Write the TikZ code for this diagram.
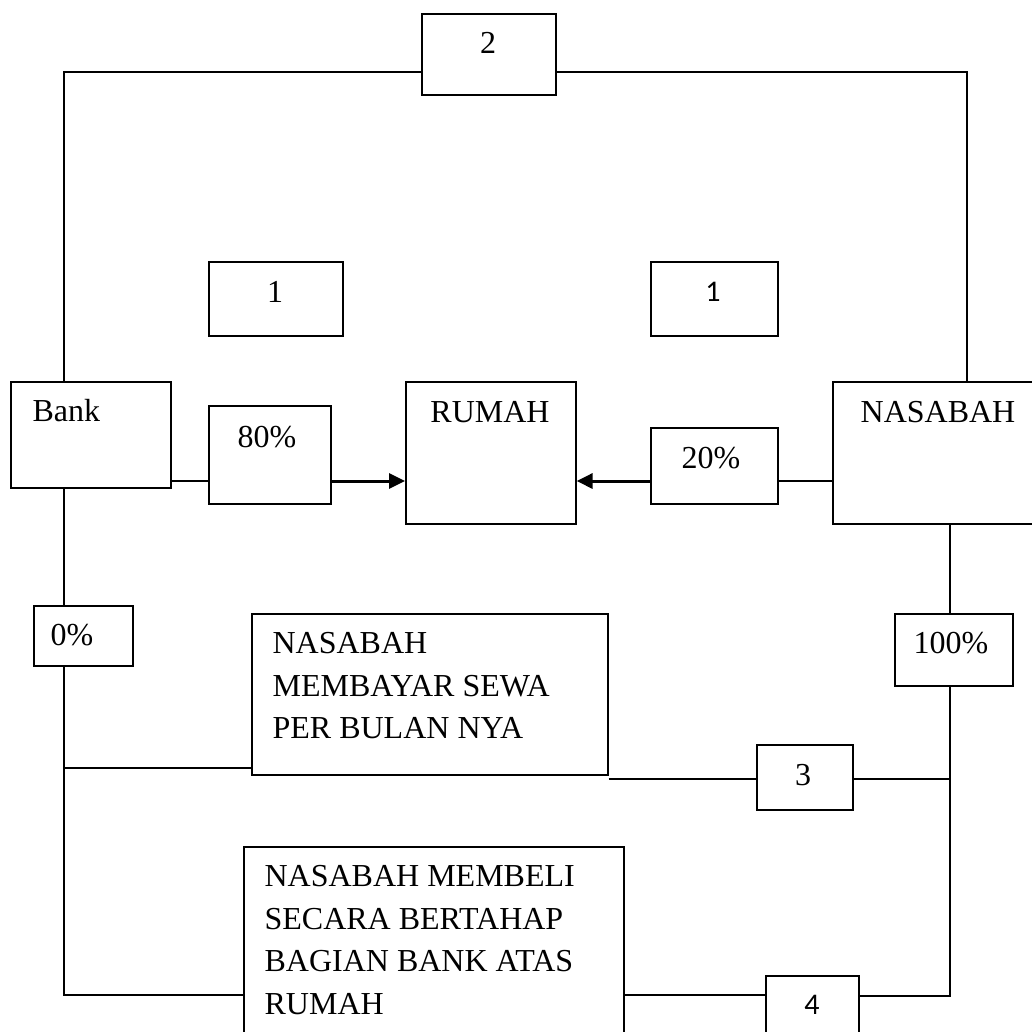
\documentclass[tikz,border=0pt]{standalone}
\usepackage{fontspec}
\setmainfont{Liberation Serif}
\newfontfamily\calibri{Carlito}
\usetikzlibrary{arrows.meta}

\begin{document}
\begin{tikzpicture}[x=1pt, y=-1pt, line width=1.2pt, box/.style={draw, line width=1.6pt, anchor=north west, inner sep=0pt}, txt/.style={inner sep=0pt, font=\fontsize{32}{42.5}\selectfont}, arr/.style={line width=3pt, -{Triangle[length=16pt,width=15pt]}}]
				\useasboundingbox (0,0) rectangle (1032,1032);
				\node[box, minimum width=134, minimum height=81](two) at (421,13){};
				\node[box, minimum width=134, minimum height=74](oneL) at (208,261){};
				\node[box, minimum width=127, minimum height=74](oneR) at (650,261){};
				\node[box, minimum width=160, minimum height=106](bank) at (10,381){};
				\node[box, minimum width=122, minimum height=98](p80) at (208,405){};
				\node[box, minimum width=170, minimum height=142](rumah) at (405,381){};
				\node[box, minimum width=127, minimum height=76](p20) at (650,427){};
				\node[box, minimum width=204, minimum height=142](nasabah) at (832,381){};
				\node[box, minimum width=99, minimum height=60](p0) at (33,605){};
				\node[box, minimum width=118, minimum height=72](p100) at (894,613){};
				\node[box, minimum width=356, minimum height=161](sewa) at (251,613){};
				\node[box, minimum width=96, minimum height=65](p3) at (756,744){};
				\node[box, minimum width=380, minimum height=200](beli) at (243,846){};
				\node[box, minimum width=93, minimum height=70](p4) at (765,975){};
				\node[txt](twot) at (488,43){2};
				\node[txt](oneLt) at (275,292){1};
				\node[txt, font=\fontsize{30}{36}\calibri](oneRt) at (713,292){1};
				\node[txt, anchor=west](bankt) at (32,411){Bank};
				\node[txt](p80t) at (267,437){80\%};
				\node[txt](rumaht) at (490,412){RUMAH};
				\node[txt](p20t) at (711,458){20\%};
				\node[txt](nasabaht) at (938,412){NASABAH};
				\node[txt](p0t) at (72,635){0\%};
				\node[txt](p100t) at (951,643){100\%};
				\node[txt, anchor=north west, align=left](sewat) at (272,632){NASABAH\\MEMBAYAR SEWA\\PER BULAN NYA};
				\node[txt](p3t) at (803,775){3};
				\node[txt, anchor=north west, align=left](belit) at (264,865){NASABAH MEMBELI\\SECARA BERTAHAP\\BAGIAN BANK ATAS\\RUMAH};
				\node[txt, font=\fontsize{30}{36}\calibri](p4t) at (812,1005){4};
				\coordinate (tl) at (64,72);
				\coordinate (tr) at (967,72);
				\coordinate (mid) at (0,481);
				\coordinate (bl) at (64,995);
				\coordinate (br) at (950,996);
				\draw (bank.north -| tl) -- (tl) -- (two.west |- tl);
				\draw (two.east |- tr) -- (tr) -- (nasabah.north -| tr);
				\draw (bank.east |- mid) -- (p80.west |- mid);
				\draw[arr] (p80.east |- mid) -- (rumah.west |- mid);
				\draw[arr] (p20.west |- mid) -- (rumah.east |- mid);
				\draw (p20.east |- mid) -- (nasabah.west |- mid);
				\draw (bank.south -| tl) -- (p0.north -| tl);
				\draw (p0.south -| tl) -- (bl) -- (beli.west |- bl);
				\draw (tl |- 0,768) -- (sewa.west |- 0,768);
				\draw (nasabah.south -| br) -- (p100.north -| br);
				\draw (p100.south -| br) -- (br) -- (p4.east |- br);
				\draw (sewa.east |- 0,779) -- (p3.west |- 0,779);
				\draw (p3.east |- 0,779) -- (br |- 0,779);
				\draw (beli.east |- 0,995) -- (p4.west |- 0,995);
			\end{tikzpicture}
\end{document}
